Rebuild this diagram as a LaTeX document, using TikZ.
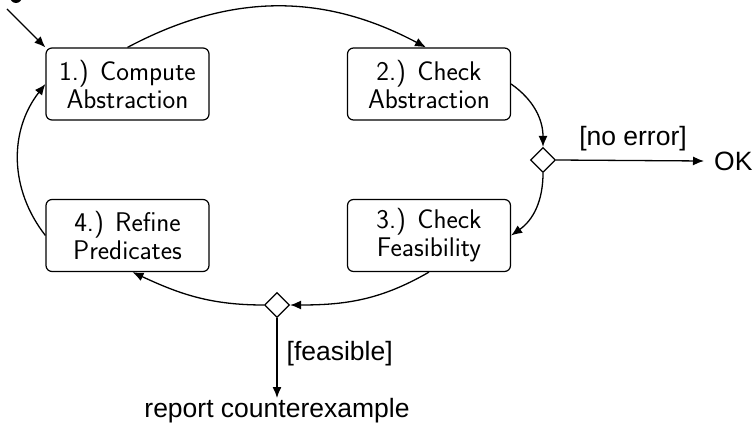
\documentclass[tikz,border=0pt]{standalone}
\usepackage{fontspec}
\newfontfamily\helv{Liberation Sans}
\usetikzlibrary{shapes.geometric,arrows.meta}
\begin{document}
\begin{tikzpicture}[x=1pt,y=-1pt,
  stepbox/.style={draw,line width=1.2pt,rounded corners=6pt,minimum width=163pt,minimum height=72pt,
    align=center,font=\sffamily\fontsize{27}{28}\selectfont,inner sep=0pt},
  decide/.style={draw,line width=1.2pt,diamond,minimum size=25pt,inner sep=0pt},
  flow/.style={line width=1.3pt,-{Latex[length=11pt,width=9pt]}},
  lbl/.style={font=\helv\fontsize{26.5}{28}\selectfont,inner sep=0pt}]
\useasboundingbox (0,0) rectangle (755,425);
\fill (16,-3) circle (6);
\coordinate (start) at (7,9);
\node[stepbox] (b1) at (127.5,84) {1.) Compute\\Abstraction};
\node[stepbox] (b2) at (429,84) {2.) Check\\Abstraction};
\node[stepbox] (b3) at (429,235.5) {3.) Check\\Feasibility};
\node[stepbox] (b4) at (127.5,235.5) {4.) Refine\\Predicates};
\node[decide] (d1) at (543,160) {};
\node[decide] (d2) at (277,305) {};
\node[lbl,anchor=west] (ok) at (714,161) {OK};
\node[lbl,anchor=north] (rep) at (277,398) {report counterexample};
\draw[flow] (start) -- (b1.north west);
\draw[flow] (b1.north) to[bend left=28] ([xshift=-3pt]b2.north);
\draw[flow] (b2.east) to[out=-35,in=90] (d1.north);
\draw[flow] (d1.south) to[out=-90,in=35] (b3.east);
\draw[flow] (d1.east) -- node[lbl,above=9pt,pos=0.52] {[no error]} ([xshift=-10pt]ok.west);
\draw[flow] (b3.south) to[out=-150,in=0] (d2.east);
\draw[flow] (d2.west) to[out=180,in=-25] ([xshift=5pt]b4.south);
\draw[flow] (d2.south) -- node[lbl,right=9pt,pos=0.45] {[feasible]} (rep.north);
\draw[flow] (b4.west) to[bend left=38] (b1.west);
\end{tikzpicture}
\end{document}
